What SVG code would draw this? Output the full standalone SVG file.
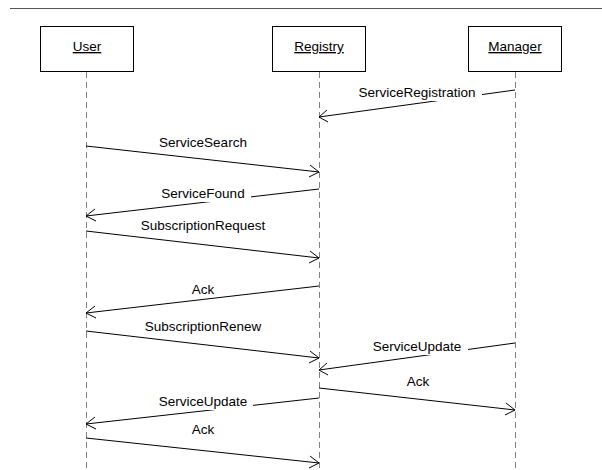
<svg xmlns="http://www.w3.org/2000/svg" width="602" height="470" viewBox="0 0 602 470">
<defs>
<style>
.box{fill:#fff;stroke:#000;stroke-width:1}
.life{stroke:#808080;stroke-width:1;stroke-dasharray:6,4}
.msg{stroke:#000;stroke-width:1;fill:none}
.head{stroke:#000;stroke-width:1;fill:none}
.t{font-family:"Liberation Sans",Arial,sans-serif;font-size:13.5px;fill:#000}
.u{text-decoration:underline}
.bg{fill:#fff}
</style>
</defs>
<rect width="602" height="470" fill="#fff"/>
<line x1="10" y1="8.5" x2="602" y2="8.5" stroke="#555" stroke-width="1"/>
<g id="lifelines">
<line class="life" x1="86.5" y1="72" x2="86.5" y2="470"/>
<line class="life" x1="319.5" y1="72" x2="319.5" y2="470"/>
<line class="life" x1="515.5" y1="72" x2="515.5" y2="470"/>
</g>
<g id="user"><rect class="box" x="40.5" y="26.5" width="93" height="45"/><text class="t u" x="87" y="51" text-anchor="middle">User</text></g>
<g id="registry"><rect class="box" x="272.5" y="26.5" width="93" height="45"/><text class="t u" x="319" y="51" text-anchor="middle">Registry</text></g>
<g id="manager"><rect class="box" x="468.5" y="26.5" width="93" height="45"/><text class="t u" x="515" y="51" text-anchor="middle">Manager</text></g>
<g id="connectors">
<path class="msg" d="M515,90 L319,117"/><path class="head" d="M327,110 L319,117 L328,122"/>
<path class="msg" d="M86,146 L319,172"/><path class="head" d="M310,165 L319,172 L309,177"/>
<path class="msg" d="M319,189 L86,216"/><path class="head" d="M95,209 L86,216 L96,221"/>
<path class="msg" d="M86,231 L319,258"/><path class="head" d="M310,251 L319,258 L309,263"/>
<path class="msg" d="M319,286 L86,313"/><path class="head" d="M95,306 L86,313 L96,318"/>
<path class="msg" d="M86,331 L319,358"/><path class="head" d="M310,351 L319,358 L309,363"/>
<path class="msg" d="M515,343 L319,370"/><path class="head" d="M327,363 L319,370 L328,375"/>
<path class="msg" d="M319,388 L515,410"/><path class="head" d="M506,403 L515,410 L505,415"/>
<path class="msg" d="M319,398 L86,424"/><path class="head" d="M95,417 L86,424 L96,429"/>
<path class="msg" d="M86,438 L319,463"/><path class="head" d="M310,456 L319,463 L309,468"/>
</g>
<g id="labels">
<rect class="bg" x="355" y="85" width="127" height="16"/><text class="t" x="417" y="97" text-anchor="middle">ServiceRegistration</text>
<text class="t" x="203" y="147" text-anchor="middle">ServiceSearch</text>
<rect class="bg" x="156" y="186" width="95" height="16"/><text class="t" x="203" y="198" text-anchor="middle">ServiceFound</text>
<text class="t" x="203" y="230" text-anchor="middle">SubscriptionRequest</text>
<text class="t" x="203" y="294" text-anchor="middle">Ack</text>
<text class="t" x="203" y="331" text-anchor="middle">SubscriptionRenew</text>
<rect class="bg" x="367" y="339" width="101" height="16"/><text class="t" x="417" y="351" text-anchor="middle">ServiceUpdate</text>
<text class="t" x="418" y="386" text-anchor="middle">Ack</text>
<rect class="bg" x="152" y="394" width="101" height="16"/><text class="t" x="203" y="406" text-anchor="middle">ServiceUpdate</text>
<text class="t" x="203" y="434" text-anchor="middle">Ack</text>
</g>
</svg>
